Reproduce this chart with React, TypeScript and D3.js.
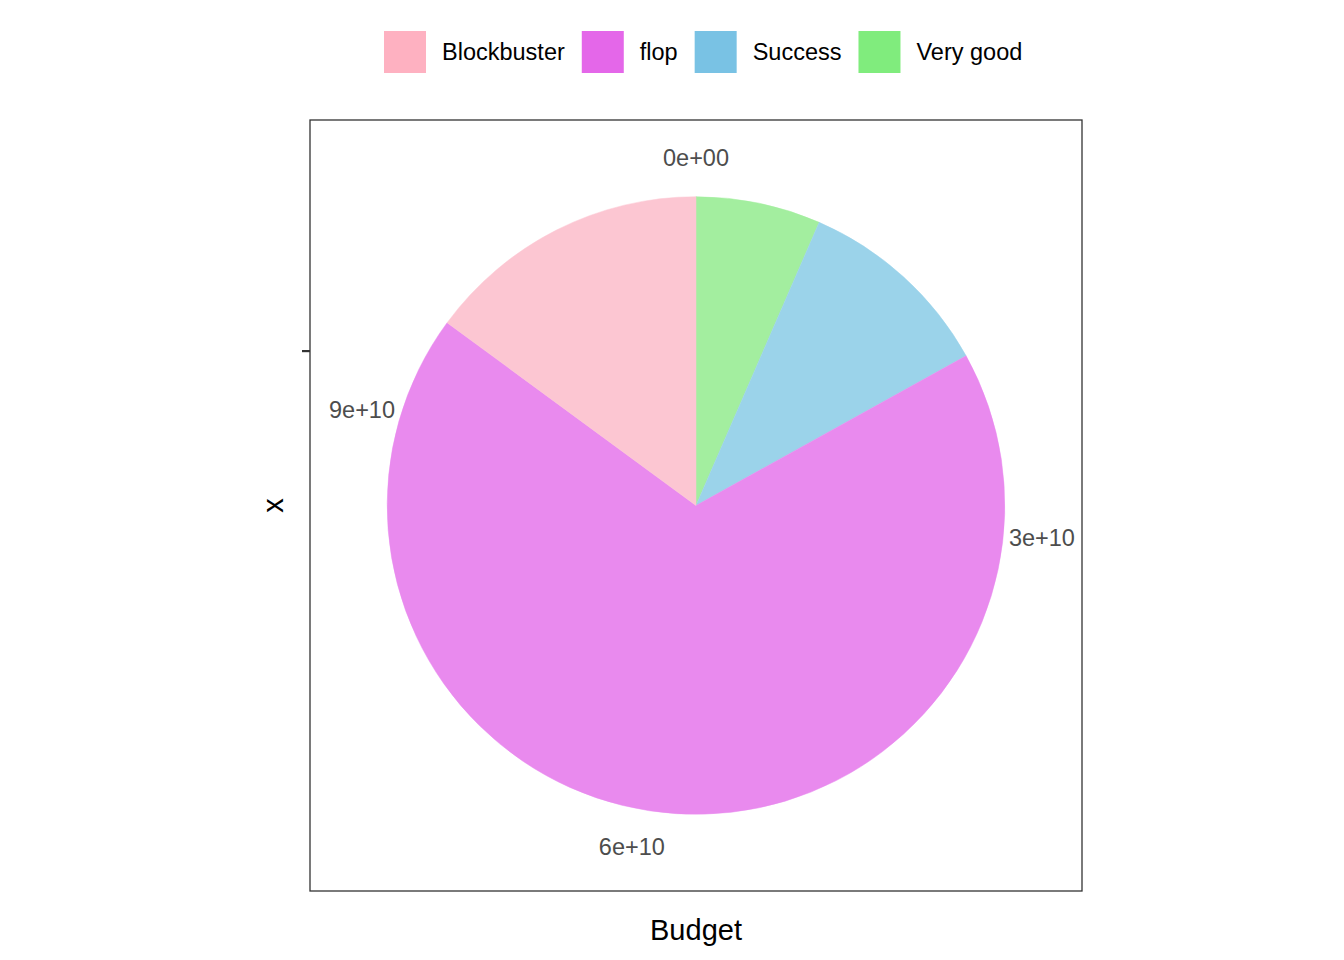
import * as d3 from "d3";
import { useMemo } from "react";

// категории и суммы бюджета (чтение с картинки)
const categories = ["Blockbuster", "flop", "Success", "Very good"];
const budgets = [1.69e10, 7.72e10, 1.18e10, 7.4e9];
const keyColors = ["#FEB1C1", "#E467E9", "#79C2E4", "#80EC7D"];
const sliceColors = ["#FCC6D2", "#E98AEE", "#9BD3EA", "#A3EE9F"];
const thetaTicks = [0, 3e10, 6e10, 9e10];
const thetaTickLabels = ["0e+00", "3e+10", "6e+10", "9e+10"];

const FONT = "'Liberation Sans', Arial, Helvetica, sans-serif";
const W = 1344;
const H = 960;

const measure = (txt: string, size: number) => {
  const c = document.createElement("canvas").getContext("2d");
  if (!c) return txt.length * size * 0.55;
  c.font = `${size}px ${FONT}`;
  return c.measureText(txt).width;
};

const App = () => {
  const panel = { x0: 310, y0: 120, x1: 1082, y1: 891 };
  const cx = (panel.x0 + panel.x1) / 2;
  const cy = (panel.y0 + panel.y1) / 2;
  const size = panel.x1 - panel.x0;
  const rOuter = size * 0.4;
  const rLabel = size * 0.45;

  // порядок по часовой стрелке сверху: обратный порядку легенды
  const pieData = useMemo(
    () => categories.map((c, i) => ({ cat: c, value: budgets[i], fill: sliceColors[i] })).reverse(),
    []
  );
  const total = d3.sum(pieData, d => d.value);

  const theta = d3.scaleLinear().domain([0, total]).range([0, 2 * Math.PI]);
  const arcs = d3.pie<any>().sort(null).value(d => d.value)(pieData);
  const arcGen = d3.arc<any>().innerRadius(0).outerRadius(rOuter);

  // раскладка легенды
  const legendFont = 23.5;
  const keySize = 42;
  const legend = useMemo(() => {
    let x = 384;
    return categories.map((c, i) => {
      const item = { cat: c, color: keyColors[i], kx: x, tx: x + keySize + 16 };
      x = item.tx + measure(c, legendFont) + 17;
      return item;
    });
  }, []);

  return (
    <svg
      width={W}
      height={H}
      style={{ display: "block", background: "#fff", position: "absolute", left: 0, top: 0 }}
      fontFamily={FONT}
    >
      <g transform={`translate(${cx},${cy})`}>
        {arcs.map(a => (
          <path key={a.data.cat} d={arcGen(a) || ""} fill={a.data.fill} stroke={a.data.fill} strokeWidth={0.5} />
        ))}
        {thetaTicks.map((t, i) => {
          const ang = theta(t);
          return (
            <text
              key={t}
              x={rLabel * Math.sin(ang)}
              y={-rLabel * Math.cos(ang)}
              textAnchor="middle"
              dominantBaseline="central"
              fontSize={23.5}
              fill="#4D4D4D"
            >
              {thetaTickLabels[i]}
            </text>
          );
        })}
      </g>

      <rect
        x={panel.x0}
        y={panel.y0}
        width={panel.x1 - panel.x0}
        height={panel.y1 - panel.y0}
        fill="none"
        stroke="#333333"
        strokeWidth={1.3}
      />
      {/* единственная отметка радиальной оси */}
      <line x1={panel.x0 - 8} x2={panel.x0} y1={cy - rOuter / 2} y2={cy - rOuter / 2} stroke="#333333" strokeWidth={2.2} />

      <text x={cx} y={930} textAnchor="middle" dominantBaseline="central" fontSize={29} fill="#000">
        Budget
      </text>
      <text
        transform={`translate(273,${cy}) rotate(-90)`}
        textAnchor="middle"
        dominantBaseline="central"
        fontSize={29}
        fill="#000"
      >
        x
      </text>

      {legend.map(l => (
        <g key={l.cat}>
          <rect x={l.kx} y={31} width={keySize} height={keySize} fill={l.color} />
          <text x={l.tx} y={52} dominantBaseline="central" fontSize={legendFont} fill="#000">
            {l.cat}
          </text>
        </g>
      ))}
    </svg>
  );
};

export default App;
